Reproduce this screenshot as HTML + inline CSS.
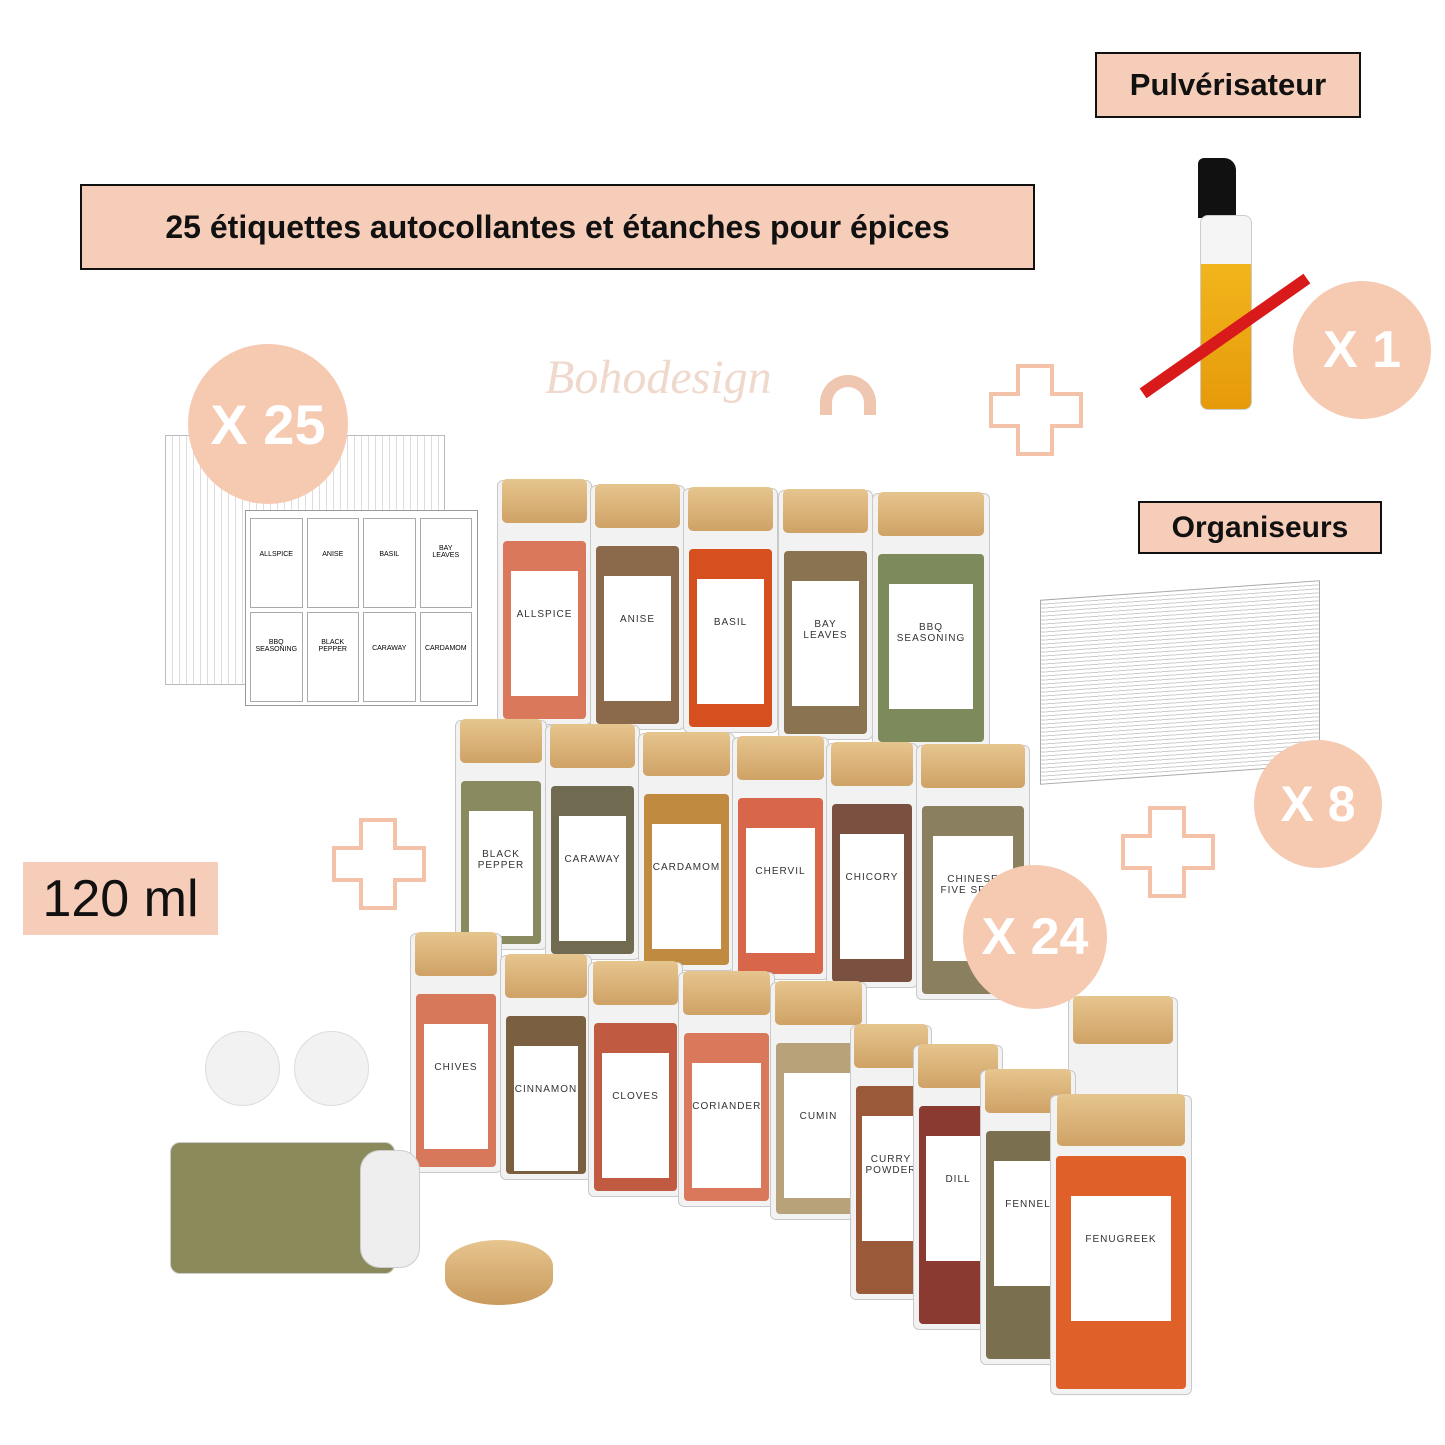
<!DOCTYPE html>
<html><head><meta charset="utf-8"><style>
*{margin:0;padding:0;box-sizing:border-box}
body{width:1445px;height:1445px;background:#fff;position:relative;overflow:hidden;font-family:"Liberation Sans",sans-serif}
.a{position:absolute}
.box{position:absolute;background:#f6cdb8;border:2px solid #111;display:flex;align-items:center;justify-content:center;font-weight:bold;color:#111}
.c{position:absolute;border-radius:50%;background:#f6c9b1;color:#fff;font-weight:bold;display:flex;align-items:center;justify-content:center}
.jar{position:absolute;border:1px solid #c9c9c9;border-radius:6px;background:#f2f2f2}
.jar .lid{position:absolute;left:4%;right:4%;top:-2px;height:44px;background:linear-gradient(#e6c58e,#cfa266);border-radius:5px}
.jar .fill{position:absolute;left:5px;right:5px;bottom:5px;top:60px;border-radius:4px}
.jar .lab{position:absolute;left:14%;right:14%;top:90px;height:125px;background:#fff;font-size:10px;letter-spacing:1px;text-align:center;padding-top:38px;color:#333;line-height:11px}
.plus{position:absolute}
</style></head><body>

<div class="box" style="left:1095px;top:52px;width:266px;height:66px;font-size:31px">Pulvérisateur</div>
<div class="box" style="left:80px;top:184px;width:955px;height:86px;font-size:32px">25 étiquettes autocollantes et étanches pour épices</div>
<div class="box" style="left:1138px;top:501px;width:244px;height:53px;font-size:30px">Organiseurs</div>
<div class="a" style="left:23px;top:862px;width:195px;height:73px;background:#f6cdb8;font-size:52px;display:flex;align-items:center;justify-content:center;color:#111">120 ml</div>

<div class="a" style="left:545px;top:350px;font-family:'Liberation Serif',serif;font-style:italic;font-size:48px;color:#f0d9cc">Bohodesign</div>
<div class="a" style="left:820px;top:375px;width:56px;height:40px;border:12px solid #efc7b0;border-bottom:none;border-radius:30px 30px 0 0"></div>

<!-- label sheets -->
<div class="a" style="left:165px;top:435px;width:280px;height:250px;border:1px solid #bbb;background:repeating-linear-gradient(90deg,#fff 0 6px,#ddd 6px 7px)"></div>
<div class="a" style="left:245px;top:510px;width:233px;height:196px;border:1px solid #999;background:#fff"></div>
<div class="a" style="left:250px;top:518px;width:222px;height:184px;display:grid;grid-template-columns:repeat(4,1fr);gap:4px;font-size:7px;text-align:center">
<div style="border:1px solid #aaa;padding-top:32px">ALLSPICE</div><div style="border:1px solid #aaa;padding-top:32px">ANISE</div><div style="border:1px solid #aaa;padding-top:32px">BASIL</div><div style="border:1px solid #aaa;padding-top:26px">BAY<br>LEAVES</div>
<div style="border:1px solid #aaa;padding-top:26px">BBQ<br>SEASONING</div><div style="border:1px solid #aaa;padding-top:26px">BLACK<br>PEPPER</div><div style="border:1px solid #aaa;padding-top:32px">CARAWAY</div><div style="border:1px solid #aaa;padding-top:32px">CARDAMOM</div></div>

<!-- spray bottle -->
<div class="a" style="left:1198px;top:158px;width:38px;height:60px;background:#111;border-radius:6px 12px 0 0"></div>
<div class="a" style="left:1200px;top:215px;width:52px;height:195px;border:1px solid #ccc;border-radius:8px;background:linear-gradient(#f5f5f5 0 25%,#f2b51c 25%,#e69a0a)"></div>
<div class="a" style="left:1125px;top:330px;width:200px;height:12px;background:#d91a1a;transform:rotate(-35deg)"></div>

<!-- organizer -->
<div class="a" style="left:1040px;top:590px;width:280px;height:185px;border:1px solid #aaa;background:repeating-linear-gradient(0deg,#fff 0 3px,#ccc 3px 4px);transform:skewY(-4deg)"></div>

<!-- plus signs -->
<svg class="plus" style="left:988px;top:363px" width="96" height="94"><path d="M30 3h34v28h29v32h-29v28h-34v-28h-27v-32h27z" fill="none" stroke="#f3c2a8" stroke-width="4"/></svg>
<svg class="plus" style="left:331px;top:817px" width="96" height="94"><path d="M30 3h34v28h29v32h-29v28h-34v-28h-27v-32h27z" fill="none" stroke="#f3c2a8" stroke-width="4"/></svg>
<svg class="plus" style="left:1120px;top:805px" width="96" height="94"><path d="M30 3h34v28h29v32h-29v28h-34v-28h-27v-32h27z" fill="none" stroke="#f3c2a8" stroke-width="4"/></svg>

<!-- jars row1 -->
<div class="jar" style="left:497px;top:480px;width:95px;height:245px"><div class="lid"></div><div class="fill" style="background:#d9785a"></div><div class="lab">ALLSPICE</div></div>
<div class="jar" style="left:590px;top:485px;width:95px;height:245px"><div class="lid"></div><div class="fill" style="background:#8a6a4a"></div><div class="lab">ANISE</div></div>
<div class="jar" style="left:683px;top:488px;width:95px;height:245px"><div class="lid"></div><div class="fill" style="background:#d5501e"></div><div class="lab">BASIL</div></div>
<div class="jar" style="left:778px;top:490px;width:95px;height:250px"><div class="lid"></div><div class="fill" style="background:#8a7350"></div><div class="lab">BAY<br>LEAVES</div></div>
<div class="jar" style="left:872px;top:493px;width:118px;height:255px"><div class="lid"></div><div class="fill" style="background:#7d8a5c"></div><div class="lab">BBQ<br>SEASONING</div></div>
<!-- row2 -->
<div class="jar" style="left:455px;top:720px;width:92px;height:230px"><div class="lid"></div><div class="fill" style="background:#8a8a60"></div><div class="lab">BLACK<br>PEPPER</div></div>
<div class="jar" style="left:545px;top:725px;width:95px;height:235px"><div class="lid"></div><div class="fill" style="background:#6f6a50"></div><div class="lab">CARAWAY</div></div>
<div class="jar" style="left:638px;top:733px;width:97px;height:238px"><div class="lid"></div><div class="fill" style="background:#c08a40"></div><div class="lab">CARDAMOM</div></div>
<div class="jar" style="left:732px;top:737px;width:97px;height:243px"><div class="lid"></div><div class="fill" style="background:#d8664a"></div><div class="lab">CHERVIL</div></div>
<div class="jar" style="left:826px;top:743px;width:92px;height:245px"><div class="lid"></div><div class="fill" style="background:#7a5040"></div><div class="lab">CHICORY</div></div>
<div class="jar" style="left:916px;top:745px;width:114px;height:255px"><div class="lid"></div><div class="fill" style="background:#8a8060"></div><div class="lab">CHINESE<br>FIVE SPICE</div></div>
<!-- row3 -->
<div class="jar" style="left:410px;top:933px;width:92px;height:240px"><div class="lid"></div><div class="fill" style="background:#d8785a"></div><div class="lab">CHIVES</div></div>
<div class="jar" style="left:500px;top:955px;width:92px;height:225px"><div class="lid"></div><div class="fill" style="background:#7a6040"></div><div class="lab">CINNAMON</div></div>
<div class="jar" style="left:588px;top:962px;width:95px;height:235px"><div class="lid"></div><div class="fill" style="background:#c05a40"></div><div class="lab">CLOVES</div></div>
<div class="jar" style="left:678px;top:972px;width:97px;height:235px"><div class="lid"></div><div class="fill" style="background:#d9785a"></div><div class="lab">CORIANDER</div></div>
<div class="jar" style="left:770px;top:982px;width:97px;height:238px"><div class="lid"></div><div class="fill" style="background:#b8a27a"></div><div class="lab">CUMIN</div></div>
<div class="jar" style="left:1068px;top:997px;width:110px;height:120px"><div class="lid" style="height:48px"></div></div>
<div class="jar" style="left:850px;top:1025px;width:82px;height:275px"><div class="lid"></div><div class="fill" style="background:#9a5a3a"></div><div class="lab">CURRY<br>POWDER</div></div>
<div class="jar" style="left:913px;top:1045px;width:90px;height:285px"><div class="lid"></div><div class="fill" style="background:#8a3a30"></div><div class="lab">DILL</div></div>
<div class="jar" style="left:980px;top:1070px;width:96px;height:295px"><div class="lid"></div><div class="fill" style="background:#7a7050"></div><div class="lab">FENNEL</div></div>
<div class="jar" style="left:1050px;top:1095px;width:142px;height:300px"><div class="lid" style="height:52px"></div><div class="fill" style="background:#e0602a"></div><div class="lab" style="top:100px">FENUGREEK</div></div>

<!-- lying jar, lid, discs -->
<div class="a" style="left:170px;top:1142px;width:225px;height:132px;border:1px solid #ccc;border-radius:10px;background:#8a8a5a"></div>
<div class="a" style="left:360px;top:1150px;width:60px;height:118px;border-radius:20px;background:#eee;border:1px solid #ccc"></div>
<div class="a" style="left:445px;top:1240px;width:108px;height:65px;border-radius:50%/40%;background:linear-gradient(#e6c58e,#c99a5e)"></div>
<div class="a" style="left:205px;top:1031px;width:75px;height:75px;border-radius:50%;background:#f2f2f2;border:1px solid #ddd"></div>
<div class="a" style="left:294px;top:1031px;width:75px;height:75px;border-radius:50%;background:#f2f2f2;border:1px solid #ddd"></div>

<!-- count circles -->
<div class="c" style="left:188px;top:344px;width:160px;height:160px;font-size:56px">X 25</div>
<div class="c" style="left:1293px;top:281px;width:138px;height:138px;font-size:52px">X 1</div>
<div class="c" style="left:1254px;top:740px;width:128px;height:128px;font-size:50px">X 8</div>
<div class="c" style="left:963px;top:865px;width:144px;height:144px;font-size:52px">X 24</div>
</body></html>
